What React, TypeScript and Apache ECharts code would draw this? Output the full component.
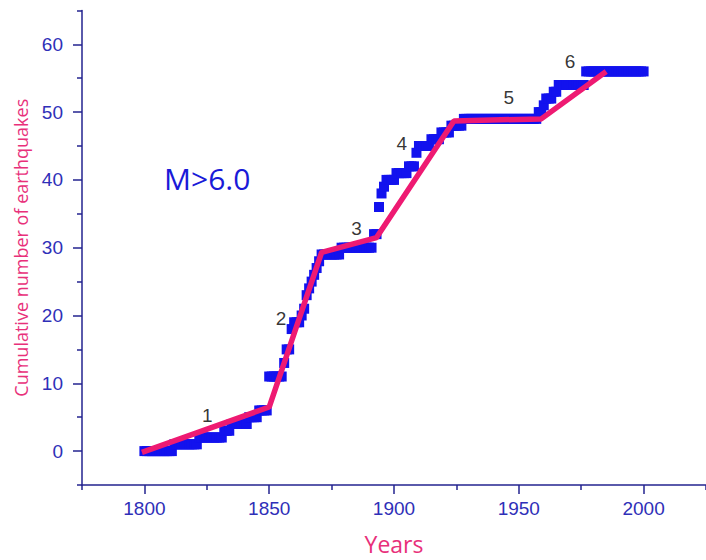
import React, { useEffect, useRef } from "react";
import * as echarts from "echarts";

// Annual cumulative number of M>6.0 earthquakes, 1800–2000 (one value per year)
const startYear = 1800;
const cumulativeCounts: number[] = [
  0, 0, 0, 0, 0, 0, 0, 0, 0, 0, // 1800
  0, 0, 1, 1, 1, 1, 1, 1, 1, 1, // 1810
  1, 1, 2, 2, 2, 2, 2, 2, 2, 2, // 1820
  2, 2, 3, 3, 3, 4, 4, 4, 4, 4, // 1830
  4, 4, 5, 5, 5, 5, 6, 6, 6, 6, // 1840
  11, 11, 11, 11, 11, 11, 13, 15, 15, 18, // 1850
  19, 19, 19, 20, 21, 23, 24, 25, 26, 27, // 1860
  28, 29, 29, 29, 29, 29, 29, 29, 29, 30, // 1870
  30, 30, 30, 30, 30, 30, 30, 30, 30, 30, // 1880
  30, 30, 32, 32, 36, 38, 39, 40, 40, 40, // 1890
  40, 41, 41, 41, 41, 41, 42, 42, 42, 44, // 1900
  45, 45, 45, 45, 45, 46, 46, 46, 46, 47, // 1910
  47, 47, 47, 48, 48, 48, 48, 48, 49, 49, // 1920
  49, 49, 49, 49, 49, 49, 49, 49, 49, 49, // 1930
  49, 49, 49, 49, 49, 49, 49, 49, 49, 49, // 1940
  49, 49, 49, 49, 49, 49, 49, 49, 50, 50, // 1950
  51, 52, 52, 52, 53, 53, 54, 54, 54, 54, // 1960
  54, 54, 54, 54, 54, 54, 54, 56, 56, 56, // 1970
  56, 56, 56, 56, 56, 56, 56, 56, 56, 56, // 1980
  56, 56, 56, 56, 56, 56, 56, 56, 56, 56, // 1990
  56, // 2000
];

// Piecewise linear fit (break points)
const fitYears = [1799, 1850, 1871, 1893, 1924, 1959, 1985];
const fitCounts = [-0.2, 6.5, 29.3, 31.5, 48.7, 49, 56];

// Segment number labels
const segmentNames = ["1", "2", "3", "4", "5", "6"];
const segmentLabelYears = [1825.2, 1854.7, 1885, 1903.1, 1946, 1970.5];
const segmentLabelCounts = [5.3, 19.6, 32.9, 45.4, 52.2, 57.4];

// Axis ticks
const xMajorTicks = [1800, 1850, 1900, 1950, 2000];
const xMinorTicks = [1775, 1825, 1875, 1925, 1975, 2025];
const yMajorTicks = [0, 10, 20, 30, 40, 50, 60];
const yMinorTicks = [-5, 5, 15, 25, 35, 45, 55, 65];

const AXIS_COLOR = "#23238f";
const LABEL_COLOR = "#2f2fb8";
const PINK = "#ee1a72";
const TITLE_PINK = "#e8307a";
const BLUE = "#1212ee";

export default function App() {
  const ref = useRef<HTMLDivElement>(null);

  useEffect(() => {
    if (!ref.current) return;
    const chart = echarts.init(ref.current, undefined, { renderer: "svg" });

    const scatterData = cumulativeCounts.map((c, i) => [startYear + i, c]);
    const fitData = fitYears.map((y, i) => [y, fitCounts[i]]);
    const labelData = segmentNames.map((n, i) => ({
      value: [segmentLabelYears[i], segmentLabelCounts[i]],
      name: n,
    }));

    const tickLabelStyle = {
      color: LABEL_COLOR,
      fontSize: 19,
      fontFamily: "'Liberation Sans', Arial, sans-serif",
      formatter: (v: number) => String(v),
    };

    chart.setOption({
      animation: false,
      backgroundColor: "#ffffff",
      grid: { left: 82, right: -11, top: 10.4, bottom: 75, containLabel: false },
      xAxis: [
        {
          type: "value",
          min: 1775,
          max: 2025,
          position: "bottom",
          name: "Years",
          nameLocation: "middle",
          nameGap: 47,
          nameTextStyle: { color: TITLE_PINK, fontSize: 23, fontFamily: "'Open Sans', sans-serif" },
          axisLine: { show: true, onZero: false, lineStyle: { color: AXIS_COLOR, width: 1.5 } },
          axisTick: { show: true, inside: false, length: 9, customValues: xMajorTicks, lineStyle: { color: AXIS_COLOR, width: 1.5 } },
          axisLabel: { show: true, customValues: xMajorTicks, margin: 14, ...tickLabelStyle },
          splitLine: { show: false },
          minorTick: { show: false },
        },
        {
          type: "value",
          min: 1775,
          max: 2025,
          position: "bottom",
          axisLine: { show: false, onZero: false },
          axisTick: { show: true, inside: false, length: 5, customValues: xMinorTicks, lineStyle: { color: AXIS_COLOR, width: 1.5 } },
          axisLabel: { show: false },
          splitLine: { show: false },
        },
      ],
      yAxis: [
        {
          type: "value",
          min: -5,
          max: 65,
          position: "left",
          name: "Cumulative number of earthquakes",
          nameLocation: "middle",
          nameGap: 52,
          nameRotate: 90,
          nameTextStyle: { color: TITLE_PINK, fontSize: 18, fontFamily: "'Open Sans', sans-serif" },
          axisLine: { show: true, onZero: false, lineStyle: { color: AXIS_COLOR, width: 1.5 } },
          axisTick: { show: true, inside: false, length: 9, customValues: yMajorTicks, lineStyle: { color: AXIS_COLOR, width: 1.5 } },
          axisLabel: { show: true, customValues: yMajorTicks, margin: 19, ...tickLabelStyle },
          splitLine: { show: false },
        },
        {
          type: "value",
          min: -5,
          max: 65,
          position: "left",
          axisLine: { show: false, onZero: false },
          axisTick: { show: true, inside: false, length: 5, customValues: yMinorTicks, lineStyle: { color: AXIS_COLOR, width: 1.5 } },
          axisLabel: { show: false },
          splitLine: { show: false },
        },
      ],
      graphic: [
        {
          type: "text",
          left: 164,
          top: 163,
          style: {
            text: "M>6.0",
            fill: "#1a1ad8",
            fontSize: 30,
            fontFamily: "'Open Sans', sans-serif",
          },
        },
      ],
      series: [
        {
          type: "scatter",
          name: "cumulative",
          xAxisIndex: 0,
          yAxisIndex: 0,
          symbol: "rect",
          symbolSize: 10,
          itemStyle: { color: BLUE, opacity: 1 },
          data: scatterData,
          z: 2,
          silent: true,
        },
        {
          type: "line",
          name: "fit",
          xAxisIndex: 0,
          yAxisIndex: 0,
          symbol: "none",
          lineStyle: { color: PINK, width: 5.5 },
          data: fitData,
          z: 3,
          silent: true,
        },
        {
          type: "scatter",
          name: "segments",
          xAxisIndex: 0,
          yAxisIndex: 0,
          symbol: "circle",
          symbolSize: 1,
          itemStyle: { color: "rgba(0,0,0,0)" },
          label: {
            show: true,
            position: "inside",
            formatter: (p: any) => p.name,
            color: "#000000",
            fontSize: 19,
            fontFamily: "'Liberation Sans', Arial, sans-serif",
          },
          data: labelData,
          z: 4,
          silent: true,
        },
      ],
    });

    return () => chart.dispose();
  }, []);

  return (
    <div
      ref={ref}
      style={{ position: "fixed", left: 0, top: 0, width: 706, height: 560, background: "#fff" }}
    />
  );
}
